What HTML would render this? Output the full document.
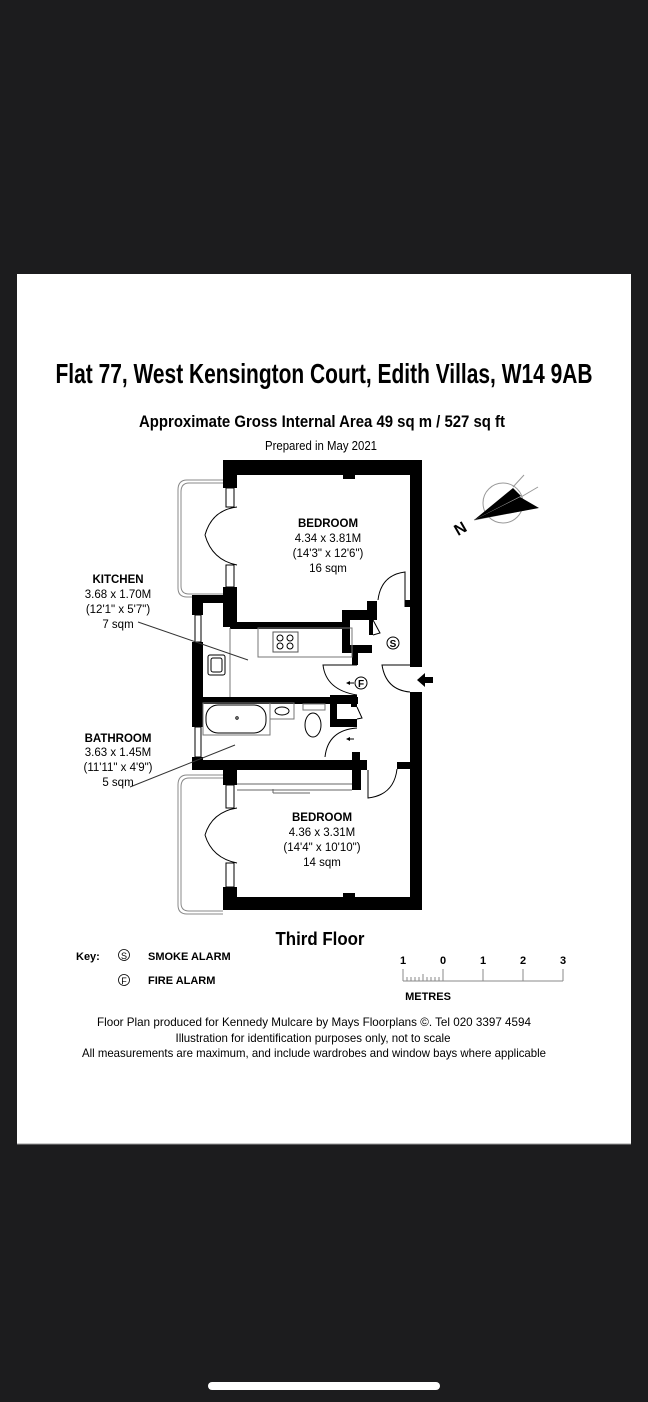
<!DOCTYPE html>
<html><head><meta charset="utf-8"><style>
html,body{margin:0;padding:0;background:#1c1c1e;}
svg{display:block;}
text{font-family:"Liberation Sans",Arial,sans-serif;fill:#000;}
</style></head><body>
<svg width="648" height="1402" viewBox="0 0 648 1402" xmlns="http://www.w3.org/2000/svg">
<rect x="0" y="0" width="648" height="1402" fill="#1c1c1e"/>
<rect x="17" y="274" width="614" height="870" fill="#fff"/>
<line x1="17" y1="1144" x2="631" y2="1144" stroke="#999"/>

<text x="324" y="383" font-size="28" font-weight="bold" text-anchor="middle" textLength="537" lengthAdjust="spacingAndGlyphs">Flat 77, West Kensington Court, Edith Villas, W14 9AB</text>
<text x="322" y="427" font-size="17" font-weight="bold" text-anchor="middle" textLength="366" lengthAdjust="spacingAndGlyphs">Approximate Gross Internal Area 49 sq m  /  527 sq ft</text>
<text x="321" y="450" font-size="13" text-anchor="middle" textLength="112" lengthAdjust="spacingAndGlyphs">Prepared in May 2021</text>

<!-- balconies -->
<g fill="none" stroke="#888" stroke-width="1">
<path d="M223 480 H187 Q178 480 178 490 V588 Q178 597 187 597 H223"/>
<path d="M223 483 H189 Q181 483 181 492 V586 Q181 594 189 594 H223"/>
<path d="M223 775 H187 Q178 775 178 785 V905 Q178 914 187 914 H223"/>
<path d="M223 778 H189 Q181 778 181 787 V903 Q181 911 189 911 H223"/>
</g>

<g fill="#000">
<!-- top bedroom -->
<rect x="223" y="460" width="199" height="15"/>
<rect x="223" y="460" width="14" height="28"/>
<rect x="223" y="587" width="14" height="40"/>
<rect x="410" y="460" width="12" height="207"/>
<rect x="405" y="600" width="6" height="7"/>
<rect x="343" y="475" width="12" height="4"/>
<rect x="230" y="622" width="117" height="7"/>
<!-- closet -->
<rect x="367" y="601" width="10" height="10"/>
<rect x="342" y="610" width="35" height="10"/>
<rect x="342" y="610" width="8" height="43"/>
<rect x="342" y="645" width="30" height="8"/>
<rect x="369" y="618" width="4" height="17"/>
<rect x="352" y="651" width="6" height="14"/>
<!-- kitchen/bath block -->
<rect x="192" y="595" width="45" height="8"/>
<rect x="192" y="595" width="11" height="20"/>
<rect x="192" y="642" width="11" height="85"/>
<rect x="192" y="757" width="11" height="13"/>
<rect x="203" y="697" width="155" height="7"/>
<rect x="192" y="760" width="175" height="10"/>
<!-- wc closet -->
<rect x="330" y="695" width="27" height="8"/>
<rect x="330" y="695" width="7" height="32"/>
<rect x="330" y="719" width="27" height="8"/>
<rect x="351" y="695" width="6" height="12"/>
<rect x="352" y="752" width="8" height="20"/>
<!-- right walls -->
<rect x="410" y="692" width="12" height="218"/>
<rect x="397" y="762" width="25" height="7"/>
<!-- bedroom 2 -->
<rect x="223" y="767" width="14" height="18"/>
<rect x="223" y="887" width="14" height="23"/>
<rect x="223" y="897" width="199" height="13"/>
<rect x="352" y="762" width="9" height="28"/>
<rect x="343" y="893" width="12" height="4"/>
<!-- entrance arrow -->
<polygon points="417,680 425,673 425,677 433,677 433,683 425,683 425,687"/>
</g>

<g fill="none" stroke="#000" stroke-width="1">
<!-- windows -->
<rect x="226" y="488" width="8" height="19"/>
<rect x="226" y="565" width="8" height="22"/>
<rect x="195" y="615" width="6" height="27"/>
<rect x="195" y="727" width="6" height="30"/>
<rect x="226" y="785" width="8" height="23"/>
<rect x="226" y="863" width="8" height="24"/>
<!-- double doors -->
<path d="M237 507 Q212 510 205 535"/><path d="M205 535 Q212 560 237 565"/>
<path d="M237 808 Q212 812 205 835"/><path d="M205 835 Q212 858 237 863"/>
<!-- door arcs -->
<path d="M405 607 V572 Q381 575 378 600"/>
<path d="M410 692 Q386 690 382 665 H410"/>
<path d="M357 665 H323 Q326 690 357 695"/>
<path d="M357 728 Q328 730 325 757"/>
<path d="M368 770 V798 Q394 795 397 769"/>
<path d="M373 620 L380 633 L373 635"/>
<path d="M357 707 L362 718 L357 719"/>
<!-- kitchen -->
<rect x="258" y="628" width="94" height="29" stroke="#777"/>
<rect x="273" y="632" width="25" height="20" stroke="#555"/>
<circle cx="280" cy="638" r="3"/><circle cx="290" cy="638" r="3"/>
<circle cx="280" cy="646" r="3"/><circle cx="290" cy="646" r="3"/>
<line x1="230" y1="628" x2="230" y2="697" stroke="#777"/>
<rect x="208" y="655" width="17" height="20" rx="2"/>
<rect x="211" y="658" width="11" height="14" rx="2"/>
<!-- bathroom -->
<rect x="203" y="703" width="67" height="32" stroke="#777"/>
<rect x="206" y="705" width="60" height="28" rx="12"/>
<circle cx="237" cy="718" r="1.2"/>
<rect x="270" y="703" width="24" height="16" stroke="#777"/>
<ellipse cx="282" cy="711" rx="7" ry="4"/>
<rect x="303" y="704" width="22" height="6" stroke="#777"/>
<ellipse cx="313" cy="725" rx="8" ry="12"/>
<!-- wardrobe -->
<line x1="237" y1="784" x2="352" y2="784" stroke="#666"/>
<line x1="237" y1="790" x2="352" y2="790" stroke="#666"/>
<line x1="273" y1="793" x2="310" y2="793" stroke="#666"/>
<line x1="273" y1="789" x2="273" y2="793" stroke="#666"/>
<!-- leaders -->
<line x1="138" y1="622" x2="248" y2="660" stroke="#333"/>
<line x1="130" y1="787" x2="235" y2="745" stroke="#333"/>
</g>

<!-- small arrows -->
<g fill="#000">
<polygon points="346,683 350,681 350,685"/><rect x="350" y="682.5" width="4" height="1"/>
<polygon points="346,739 350,737 350,741"/><rect x="350" y="738.5" width="4" height="1"/>
</g>

<!-- alarms -->
<g fill="none" stroke="#000"><circle cx="393" cy="643" r="6"/><circle cx="361" cy="683" r="6"/></g>
<text x="393" y="647" font-size="10" font-weight="bold" text-anchor="middle">S</text>
<text x="361" y="687" font-size="10" font-weight="bold" text-anchor="middle">F</text>

<!-- room labels -->
<g font-size="11.5" text-anchor="middle">
<text x="328" y="527" font-weight="bold">BEDROOM</text>
<text x="328" y="542">4.34 x 3.81M</text>
<text x="328" y="557">(14'3" x 12'6")</text>
<text x="328" y="572">16 sqm</text>
<text x="322" y="821" font-weight="bold">BEDROOM</text>
<text x="322" y="836">4.36 x 3.31M</text>
<text x="322" y="851">(14'4" x 10'10")</text>
<text x="322" y="866">14 sqm</text>
<text x="118" y="583" font-weight="bold">KITCHEN</text>
<text x="118" y="598">3.68 x 1.70M</text>
<text x="118" y="613">(12'1" x 5'7")</text>
<text x="118" y="628">7 sqm</text>
<text x="118" y="742" font-weight="bold">BATHROOM</text>
<text x="118" y="756">3.63 x 1.45M</text>
<text x="118" y="771">(11'11" x 4'9")</text>
<text x="118" y="786">5 sqm</text>
</g>

<!-- compass -->
<g>
<circle cx="503" cy="503" r="20" fill="none" stroke="#999"/>
<line x1="513" y1="487" x2="524" y2="475" stroke="#999"/>
<line x1="521" y1="497" x2="538" y2="487" stroke="#999"/>
<line x1="474" y1="520" x2="525" y2="510" stroke="#999"/>
<polygon points="474,520 513,488 521,496" fill="#000"/>
<polygon points="474,520 520,497 539,508" fill="#000"/>
<text x="460" y="534" font-size="16" font-weight="bold" text-anchor="middle" transform="rotate(-30 460 528)">N</text>
</g>

<text x="320" y="945" font-size="18" font-weight="bold" text-anchor="middle" textLength="89" lengthAdjust="spacingAndGlyphs">Third Floor</text>

<!-- key -->
<g font-size="11" font-weight="bold">
<text x="76" y="960">Key:</text>
<text x="148" y="960">SMOKE ALARM</text>
<text x="148" y="984">FIRE ALARM</text>
</g>
<g fill="none" stroke="#000" stroke-width="0.8"><circle cx="124" cy="955" r="5.5"/><circle cx="124" cy="980" r="5.5"/></g>
<text x="124" y="959" font-size="9" text-anchor="middle">S</text>
<text x="124" y="984" font-size="9" text-anchor="middle">F</text>

<!-- scale -->
<g font-size="11" font-weight="bold" text-anchor="middle">
<text x="403" y="964">1</text><text x="443" y="964">0</text><text x="483" y="964">1</text><text x="523" y="964">2</text><text x="563" y="964">3</text>
<text x="428" y="1000">METRES</text>
</g>
<g stroke="#888" stroke-width="1">
<line x1="403" y1="981" x2="563" y2="981"/>
<line x1="403" y1="969" x2="403" y2="981"/>
<line x1="443" y1="969" x2="443" y2="981"/>
<line x1="483" y1="969" x2="483" y2="981"/>
<line x1="523" y1="969" x2="523" y2="981"/>
<line x1="563" y1="969" x2="563" y2="981"/>
<line x1="407" y1="977" x2="407" y2="981"/><line x1="411" y1="977" x2="411" y2="981"/><line x1="415" y1="977" x2="415" y2="981"/><line x1="419" y1="977" x2="419" y2="981"/><line x1="423" y1="974" x2="423" y2="981"/><line x1="427" y1="977" x2="427" y2="981"/><line x1="431" y1="977" x2="431" y2="981"/><line x1="435" y1="977" x2="435" y2="981"/><line x1="439" y1="977" x2="439" y2="981"/>
</g>

<!-- footer -->
<g font-size="12" text-anchor="middle">
<text x="314" y="1026" textLength="434" lengthAdjust="spacingAndGlyphs">Floor Plan produced for Kennedy Mulcare by Mays Floorplans ©. Tel 020 3397 4594</text>
<text x="313" y="1042" textLength="275" lengthAdjust="spacingAndGlyphs">Illustration for identification purposes only, not to scale</text>
<text x="314" y="1057" textLength="464" lengthAdjust="spacingAndGlyphs">All measurements are maximum, and include wardrobes and window bays where applicable</text>
</g>

<rect x="208" y="1382" width="232" height="8" rx="4" fill="#fff"/>
</svg>
</body></html>
